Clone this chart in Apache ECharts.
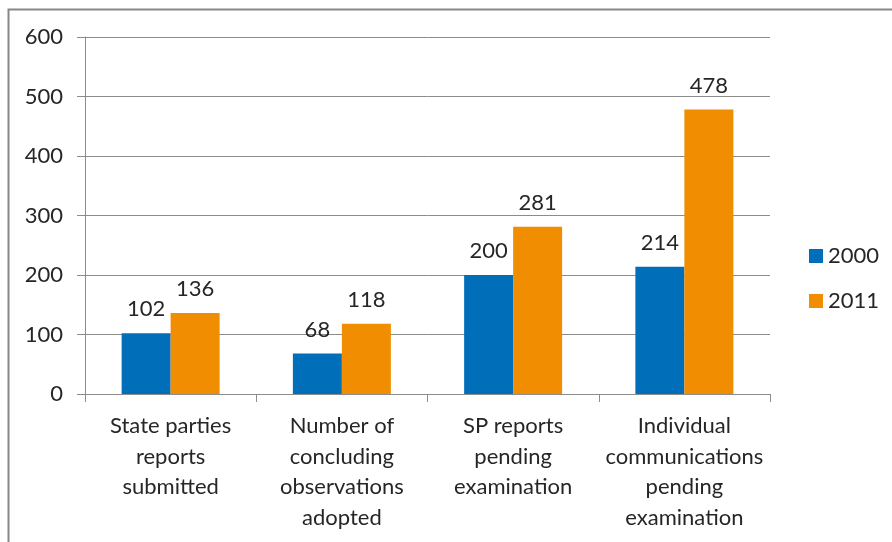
<!DOCTYPE html>
<html><head><meta charset="utf-8">
<script src="https://cdn.jsdelivr.net/npm/echarts@6/dist/echarts.min.js"></script>
<style>html,body{margin:0;padding:0;background:#fff}#c{width:892px;height:542px}</style>
</head><body><div id="c"></div>
<script>
const categories = ["State parties\nreports\nsubmitted", "Number of\nconcluding\nobservations\nadopted", "SP reports\npending\nexamination", "Individual\ncommunications\npending\nexamination"];
const series2000 = [102, 68, 200, 214];
const series2011 = [136, 118, 281, 478];
const seriesNames = ["2000", "2011"];
const yTicks = [0, 100, 200, 300, 400, 500, 600];

const font = "Lato, 'Open Sans', sans-serif";
const fs = 22;
const txt = "#262626";
const gridCol = "#8c8c8c";
const chart = echarts.init(document.getElementById('c'), null, {renderer: 'canvas'});
chart.setOption({
  animation: false,
  backgroundColor: '#fff',
  graphic: [{type: 'rect', shape: {x: 8.5, y: 9.5, width: 1000, height: 1000}, style: {fill: 'none', stroke: '#878787', lineWidth: 2}, silent: true}],
  grid: {left: 85, right: 122, top: 37, bottom: 148, containLabel: false},
  legend: {
    orient: 'vertical', left: 804, top: 240, itemWidth: 14, itemHeight: 14, itemGap: 23,
    icon: 'rect', textStyle: {fontFamily: font, fontSize: fs, lineHeight: 22, color: txt, padding: [0,0,0,0]},
    data: seriesNames
  },
  xAxis: {
    type: 'category', data: categories,
    axisLine: {lineStyle: {color: gridCol, width: 1}},
    axisTick: {show: true, length: 8, lineStyle: {color: gridCol}},
    axisLabel: {fontFamily: font, fontSize: fs, color: txt, lineHeight: 30.5, margin: 17, interval: 0}
  },
  yAxis: {
    type: 'value', min: yTicks[0], max: yTicks[yTicks.length-1], interval: 100,
    axisLine: {show: true, lineStyle: {color: gridCol}},
    axisTick: {show: true, length: 8, lineStyle: {color: gridCol}},
    splitLine: {lineStyle: {color: gridCol, width: 1}},
    axisLabel: {fontFamily: font, fontSize: fs, color: txt, margin: 22}
  },
  series: [
    {name: seriesNames[0], type: 'bar', data: series2000, barWidth: 49, barGap: '0%',
     itemStyle: {color: '#006EB8'},
     label: {show: true, position: 'top', distance: 13, fontFamily: font, fontSize: fs, color: txt}},
    {name: seriesNames[1], type: 'bar', data: series2011, barWidth: 49, barGap: '0%',
     itemStyle: {color: '#F18D00'},
     label: {show: true, position: 'top', distance: 13, fontFamily: font, fontSize: fs, color: txt}}
  ]
});
</script></body></html>
